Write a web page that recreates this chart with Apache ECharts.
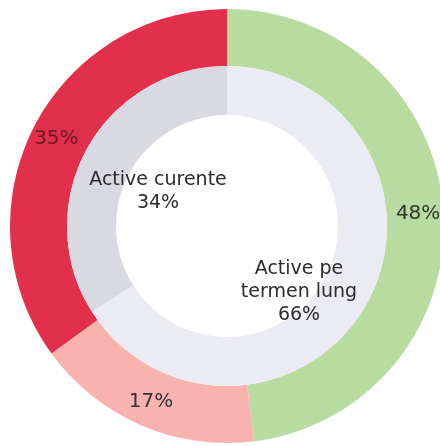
<!DOCTYPE html>
<html lang="ro">
<head>
    <meta charset="UTF-8">
    <title>Structura activelor</title>
    <style>
        html, body { margin: 0; padding: 0; background: #ffffff; }
        #main { width: 440px; height: 446px; }
    </style>
</head>
<body>
<div id="main"></div>
<script src="https://cdn.jsdelivr.net/npm/echarts@6/dist/echarts.min.js"></script>
<script>
    // inelul exterior (in sensul acelor de ceas, de sus)
    var outerNames = ['verde', 'roz', 'rosu'];
    var outerValues = [48, 17, 35];
    var outerColors = ['#b8dba0', '#f8b3ae', '#e2304c'];

    // inelul interior
    var innerNames = ['Active pe\ntermen lung', 'Active curente'];
    var innerValues = [66, 34];
    var innerColors = ['#ebebf3', '#d9d9e1'];

    var font = 'DejaVu Sans, Verdana, sans-serif';

    var outerData = [];
    for (var i = 0; i < outerValues.length; i++) {
        outerData.push({
            name: outerNames[i],
            value: outerValues[i],
            itemStyle: {color: outerColors[i]},
            label: {color: i == 2 ? '#6a1a24' : '#333333'}
        });
    }

    // pozitia etichetelor interioare (in golul din centru)
    var innerOffsets = [[72, 66], [-69, -34]];
    var innerData = [];
    for (var j = 0; j < innerValues.length; j++) {
        innerData.push({
            name: innerNames[j],
            value: innerValues[j],
            itemStyle: {color: innerColors[j]},
            label: {offset: innerOffsets[j]}
        });
    }

    var option = {
        backgroundColor: '#ffffff',
        animation: false,
        series: [
            {
                type: 'pie',
                center: [227, 226],
                radius: [160, 217],
                startAngle: 90,
                clockwise: true,
                silent: true,
                label: {
                    position: 'inside',
                    formatter: '{c}%',
                    fontFamily: font,
                    fontSize: 20,
                    color: '#333333'
                },
                labelLine: {show: false},
                data: outerData
            },
            {
                type: 'pie',
                center: [227, 226],
                radius: [111, 160],
                startAngle: 90,
                clockwise: true,
                silent: true,
                label: {
                    position: 'center',
                    formatter: '{b}\n{c}%',
                    fontFamily: font,
                    fontSize: 19,
                    lineHeight: 23,
                    align: 'center',
                    color: '#2b2b2b'
                },
                labelLine: {show: false},
                data: innerData
            }
        ]
    };

    var chart = echarts.init(document.getElementById('main'));
    chart.setOption(option);
</script>
</body>
</html>
